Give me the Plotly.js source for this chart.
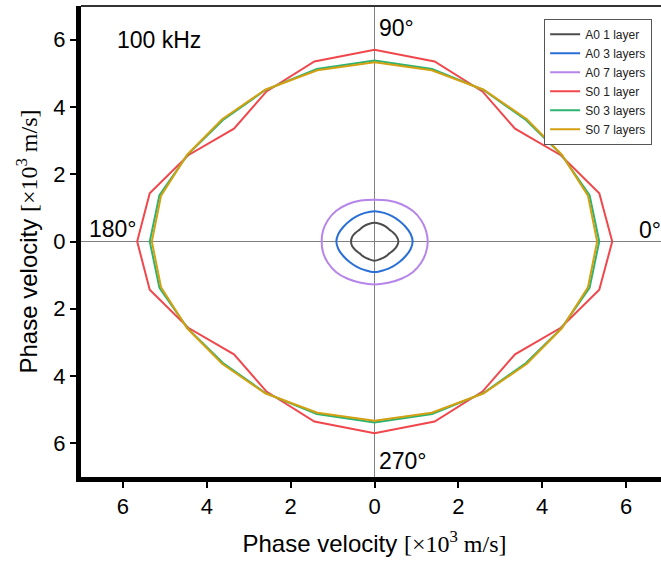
<!DOCTYPE html>
<html>
<head>
<meta charset="utf-8">
<script src="https://cdn.plot.ly/plotly-3.0.1.min.js"></script>
<style>
html,body{margin:0;padding:0;overflow:hidden;background:#fff;}
#chart{width:670px;height:563px;}
</style>
</head>
<body>
<div id="chart"></div>
<script>
// Polar angle (degrees) of each sampled direction
const angles = [0,15,30,45,60,75,90,105,120,135,150,165,180,195,210,225,240,255,270,285,300,315,330,345,360];

// Phase velocity magnitudes [x10^3 m/s] at each angle
const a0_1layer  = [0.57,0.55,0.52,0.50,0.52,0.54,0.56,0.54,0.52,0.50,0.52,0.55,0.56,0.55,0.52,0.50,0.52,0.54,0.57,0.54,0.52,0.50,0.52,0.55,0.57];
const a0_3layers = [0.91,0.89,0.86,0.85,0.86,0.88,0.90,0.88,0.86,0.85,0.86,0.89,0.91,0.89,0.86,0.85,0.86,0.88,0.91,0.88,0.86,0.85,0.86,0.89,0.91];
const a0_7layers = [1.27,1.27,1.28,1.29,1.28,1.26,1.24,1.26,1.28,1.29,1.28,1.27,1.26,1.27,1.28,1.29,1.28,1.27,1.28,1.27,1.28,1.29,1.28,1.27,1.27];
const s0_1layer  = [5.67,5.55,5.13,4.74,5.15,5.54,5.70,5.54,5.15,4.74,5.13,5.55,5.66,5.55,5.13,4.74,5.15,5.54,5.70,5.54,5.15,4.74,5.13,5.55,5.67];
const s0_3layers = [5.36,5.31,5.15,5.11,5.20,5.31,5.38,5.31,5.20,5.11,5.15,5.31,5.36,5.31,5.15,5.11,5.20,5.31,5.38,5.31,5.20,5.11,5.15,5.31,5.36];
const s0_7layers = [5.31,5.27,5.16,5.14,5.21,5.27,5.33,5.27,5.21,5.14,5.16,5.27,5.31,5.27,5.16,5.14,5.21,5.27,5.33,5.27,5.21,5.14,5.16,5.27,5.31];

const seriesNames = ["A0 1 layer","A0 3 layers","A0 7 layers","S0 1 layer","S0 3 layers","S0 7 layers"];
const seriesColors = ["#4d4d4d","#2a6fd6","#b685ea","#f0474c","#2db36f","#d4a012"];

const tickVals = [-6,-4,-2,0,2,4,6];
const tickText = ["6","4","2","0","2","4","6"];

const allSeries = [a0_1layer,a0_3layers,a0_7layers,s0_1layer,s0_3layers,s0_7layers];

function toXY(r){
  const x=[], y=[];
  for(let i=0;i<angles.length;i++){
    const t = angles[i]*Math.PI/180;
    x.push(r[i]*Math.cos(t));
    y.push(r[i]*Math.sin(t));
  }
  return {x,y};
}

const traces = allSeries.map((r,i)=>{
  const p = toXY(r);
  return {
    type:'scatter', mode:'lines', x:p.x, y:p.y, name:seriesNames[i],
    line:{color:seriesColors[i], width:2, shape: i<3 ? 'spline' : 'linear'},
    hoverinfo:'skip'
  };
});

const FONT = 'Liberation Sans, Arial, sans-serif';
const titleText = 'Phase velocity <span style="font-family:Liberation Serif, Times New Roman, serif">[×10<sup>3</sup> m/s]</span>';

const layout = {
  width:670, height:563,
  margin:{l:81, r:2, t:6, b:86},
  paper_bgcolor:'#fff', plot_bgcolor:'#fff',
  font:{family:FONT, color:'#000', size:20},
  showlegend:true,
  legend:{
    x:0.789, y:0.973, xanchor:'left', yanchor:'top',
    bgcolor:'#fff', bordercolor:'#555', borderwidth:1,
    font:{family:FONT, size:12, color:'#222'},
    tracegroupgap:0
  },
  xaxis:{
    range:[-7,7], tickvals:tickVals, ticktext:tickText,
    showgrid:false, zeroline:true, zerolinecolor:'#808080', zerolinewidth:1,
    showline:true, linecolor:'#000', linewidth:5,
    ticks:'outside', ticklen:6, tickwidth:2, tickcolor:'#000',
    tickfont:{family:FONT, size:22, color:'#000'},
    title:{text:titleText, font:{family:FONT, size:24, color:'#000'}, standoff:18},
    fixedrange:true
  },
  yaxis:{
    range:[-7,7], tickvals:tickVals, ticktext:tickText,
    showgrid:false, zeroline:true, zerolinecolor:'#808080', zerolinewidth:1,
    showline:true, linecolor:'#000', linewidth:5,
    ticks:'outside', ticklen:6, tickwidth:2, tickcolor:'#000',
    tickfont:{family:FONT, size:22, color:'#000'},
    title:{text:titleText, font:{family:FONT, size:24, color:'#000'}, standoff:10},
    fixedrange:true
  },
  shapes:[
    {type:'line', xref:'paper', yref:'paper', x0:0, x1:1, y0:1, y1:1, line:{color:'#333', width:2}}
  ],
  annotations:[
    {text:'100 kHz', x:-6.2, y:6.0, xref:'x', yref:'y', xanchor:'left', yanchor:'middle', showarrow:false, font:{family:FONT,size:23,color:'#000'}},
    {text:'90°', x:0.07, y:6.35, xref:'x', yref:'y', xanchor:'left', yanchor:'middle', showarrow:false, font:{family:FONT,size:23,color:'#000'}},
    {text:'180°', x:-6.85, y:0.36, xref:'x', yref:'y', xanchor:'left', yanchor:'middle', showarrow:false, font:{family:FONT,size:23,color:'#000'}},
    {text:'0°', x:6.26, y:0.33, xref:'x', yref:'y', xanchor:'left', yanchor:'middle', showarrow:false, font:{family:FONT,size:23,color:'#000'}},
    {text:'270°', x:0.07, y:-6.53, xref:'x', yref:'y', xanchor:'left', yanchor:'middle', showarrow:false, font:{family:FONT,size:23,color:'#000'}}
  ]
};

Plotly.newPlot('chart', traces, layout, {displayModeBar:false, staticPlot:true});
</script>
</body>
</html>
